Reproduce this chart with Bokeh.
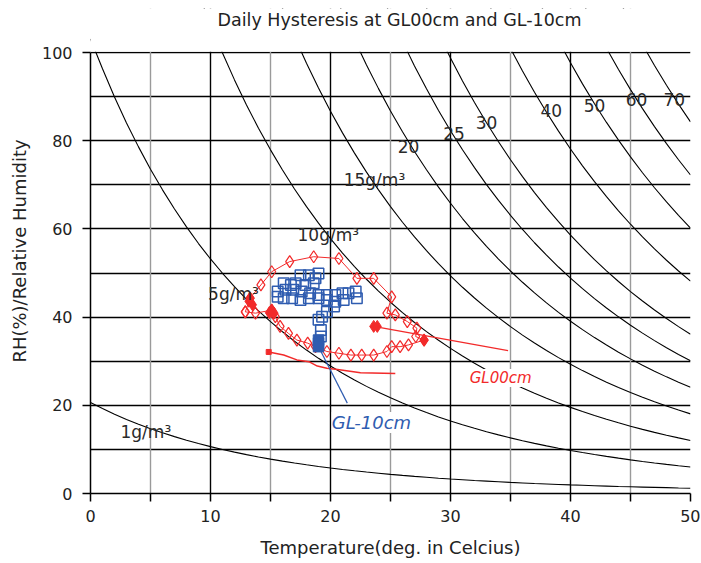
from bokeh.plotting import figure
from bokeh.models import Range1d, FixedTicker, Grid, Label
from bokeh.embed import file_html
from bokeh.resources import INLINE

# Saturation vapour density table (g/m3) by temperature (deg C)
sat_T = list(range(0, 51))
sat_rho = [4.85, 5.19, 5.56, 5.95, 6.36, 6.80, 7.26, 7.75, 8.27, 8.82,
           9.40, 10.01, 10.66, 11.35, 12.07, 12.83, 13.63, 14.48, 15.37, 16.31,
           17.30, 18.34, 19.43, 20.58, 21.78, 23.05, 24.38, 25.78, 27.24, 28.78,
           30.38, 32.07, 33.83, 35.68, 37.61, 39.63, 41.75, 43.96, 46.26, 48.67,
           51.19, 53.82, 56.56, 59.41, 62.39, 65.50, 68.73, 72.10, 75.61, 79.26,
           83.06]

# absolute humidity iso-lines (g/m3) and their labels
ah_levels = [1, 5, 10, 15, 20, 25, 30, 40, 50, 60, 70]
ah_labels = ["1g/m\u00b3", "5g/m\u00b3", "10g/m\u00b3", "15g/m\u00b3", "20", "25", "30", "40", "50", "60", "70"]
ah_label_T = [2.5, 9.8, 17.25, 21.1, 25.6, 29.4, 32.1, 37.5, 41.1, 44.6, 47.75]
ah_label_RH = [14.0, 45.2, 58.6, 71.0, 78.7, 81.7, 84.2, 86.9, 88.0, 89.4, 89.4]

# GL00cm (red) daily loop
red_T = [12.9, 13.3, 14.2, 15.1, 16.6, 18.6, 20.7, 22.2, 23.6, 25.1, 24.7, 25.4, 26.4, 27.2,
         27.1, 27.8, 26.5, 25.8, 25.1, 24.7, 23.6, 22.6, 21.7, 20.7, 19.7, 18.75, 18.1, 17.2,
         16.5, 15.8, 15.4, 15.1, 13.75, 12.9]
red_RH = [41.2, 44.3, 47.3, 50.3, 52.6, 53.7, 53.3, 48.8, 48.8, 44.6, 40.9, 40.5, 39.0, 37.5,
          35.6, 34.8, 33.7, 33.3, 33.3, 32.2, 31.4, 31.4, 31.4, 31.8, 32.2, 33.3, 34.1, 34.8,
          36.3, 37.9, 40.1, 41.6, 40.9, 41.2]
red_fill_T = [13.3, 13.5, 13.2, 15.1, 15.3, 14.9, 23.6, 23.9, 27.8]
red_fill_RH = [44.3, 42.8, 43.6, 41.6, 40.9, 41.0, 37.9, 37.9, 34.8]
red_line_T = [14.85, 16.1, 17.2, 18.2, 18.9, 19.7, 20.6, 22.5, 25.4]
red_line_RH = [32.1, 31.4, 30.3, 29.9, 28.9, 28.4, 28.1, 27.4, 27.2]

# GL-10cm (blue)
blue_T = [17.5, 18.2, 19.0, 18.75, 16.1, 16.7, 17.1, 17.9, 18.6, 15.6, 16.25, 16.9, 17.6, 18.3,
          19.0, 19.7, 20.4, 21.0, 21.5, 22.1, 15.6, 16.1, 16.8, 17.5, 18.2, 19.0, 19.7, 20.4,
          21.1, 22.2, 20.3, 19.7, 19.3, 19.0, 19.2, 19.2]
blue_RH = [49.5, 49.5, 49.9, 48.8, 47.7, 47.3, 47.7, 47.3, 47.7, 45.8, 46.2, 46.2, 45.8, 45.4,
           45.0, 45.0, 45.0, 45.4, 45.4, 45.8, 44.6, 44.3, 44.3, 43.9, 44.3, 44.3, 43.9, 43.5,
           43.9, 44.3, 42.4, 41.2, 40.1, 39.4, 37.1, 35.6]
blue_fill_T = [19.0, 19.0, 19.0]
blue_fill_RH = [34.8, 34.1, 33.3]

x_ticks = [0, 10, 20, 30, 40, 50]
y_ticks = [0, 20, 40, 60, 80, 100]

RED = "#f22a2a"
BLUE = "#2f5cb0"
FONT = "DejaVu Sans"
Y_TOP = 100      # top of the chart area
Y_ROOM = 110     # extra room above the chart for the title

p = figure(width=700, height=560, x_range=Range1d(0, 50), y_range=Range1d(0, Y_ROOM),
           output_backend="svg", toolbar_location=None,
           min_border_left=90, min_border_right=10, min_border_top=8, min_border_bottom=66)
p.outline_line_color = None
p.background_fill_color = "white"

# axes
p.xaxis.ticker = FixedTicker(ticks=x_ticks, minor_ticks=[5, 15, 25, 35, 45])
p.yaxis.ticker = FixedTicker(ticks=y_ticks, minor_ticks=[])
p.yaxis.bounds = (0, Y_TOP)
for ax in (p.xaxis[0], p.yaxis[0]):
    ax.axis_line_color = "black"
    ax.axis_line_width = 1.5
    ax.major_tick_line_color = "black"
    ax.major_tick_line_width = 1.5
    ax.major_tick_in = 0
    ax.major_tick_out = 8
    ax.minor_tick_in = 0
    ax.major_label_text_font = FONT
    ax.major_label_text_font_size = "16px"
    ax.major_label_text_color = "#222222"
    ax.axis_label_text_font = FONT
    ax.axis_label_text_font_size = "18px"
    ax.axis_label_text_font_style = "normal"
    ax.axis_label_text_color = "#222222"
p.xaxis.minor_tick_out = 8
p.xaxis.minor_tick_line_color = "black"
p.xaxis.minor_tick_line_width = 1.5
p.yaxis.minor_tick_line_color = None
p.xaxis.axis_label = "Temperature(deg. in Celcius)"
p.yaxis.axis_label = "RH(%)/Relative Humidity"
p.xaxis.major_label_standoff = 8
p.yaxis.major_label_standoff = 10
p.xaxis.axis_label_standoff = 12
p.yaxis.axis_label_standoff = 9

# grids
p.xgrid.ticker = FixedTicker(ticks=[10, 20, 30, 40])
p.xgrid.grid_line_color = "black"
p.xgrid.grid_line_width = 1.4
p.xgrid.bounds = (0, Y_TOP)
p.add_layout(Grid(dimension=0, ticker=FixedTicker(ticks=[5, 15, 25, 35, 45]),
                  grid_line_color="#9a9a9a", grid_line_width=1.4, bounds=(0, Y_TOP)))
p.ygrid.ticker = FixedTicker(ticks=[10, 20, 30, 40, 50, 60, 70, 80, 90, 100])
p.ygrid.grid_line_color = "black"
p.ygrid.grid_line_width = 1.4

# absolute humidity curves
xs = [sat_T for _ in ah_levels]
ys = [[ah / r * 100.0 for r in sat_rho] for ah in ah_levels]
p.multi_line(xs, ys, line_color="black", line_width=1.1)
# mask the curves above RH = 100 %
p.quad(left=[0], right=[50], bottom=[Y_TOP + 0.2], top=[Y_ROOM], fill_color="white",
       line_color=None)

for t, x, y in zip(ah_labels, ah_label_T, ah_label_RH):
    p.add_layout(Label(x=x, y=y, text=t, text_font=FONT, text_font_size="17px",
                       text_color="#2a2a2a", text_baseline="middle", text_align="left"))

# red series GL00cm
p.line(red_T, red_RH, line_color=RED, line_width=1)
p.line(red_line_T, red_line_RH, line_color=RED, line_width=1.5)
p.scatter(red_T, red_RH, marker="diamond", size=12, fill_color="white", fill_alpha=0,
          line_color=RED, line_width=1.2)
p.scatter(red_fill_T, red_fill_RH, marker="diamond", size=12, fill_color=RED, line_color=RED)
p.scatter([red_line_T[0]], [red_line_RH[0]], marker="square", size=5, fill_color=RED, line_color=RED)

# blue series GL-10cm
p.scatter(blue_T, blue_RH, marker="square", size=10.5, fill_color="white", fill_alpha=0,
          line_color=BLUE, line_width=1.5)
p.scatter(blue_fill_T, blue_fill_RH, marker="square", size=10.5, fill_color=BLUE, line_color=BLUE)

# leader lines and series labels
p.line([red_fill_T[6], 34.8], [red_fill_RH[6], 32.4], line_color=RED, line_width=1.2)
p.line([blue_fill_T[2], 21.4], [blue_fill_RH[2], 20.5], line_color=BLUE, line_width=1.2)
p.add_layout(Label(x=31.6, y=26.2, text="GL00cm", text_font=FONT, text_font_size="15px",
                   text_font_style="italic", text_color=RED, text_baseline="middle",
                   background_fill_color="white"))
p.add_layout(Label(x=20.1, y=16.1, text="GL-10cm", text_font=FONT, text_font_size="18px",
                   text_font_style="italic", text_color=BLUE, text_baseline="middle",
                   background_fill_color="white"))

# title
p.add_layout(Label(x=25.75, y=107.3, text="Daily Hysteresis at GL00cm and GL-10cm",
                   text_font=FONT, text_font_size="17.5px", text_color="#222222",
                   text_align="center", text_baseline="middle"))

open("out.html", "w").write(file_html(p, INLINE))
